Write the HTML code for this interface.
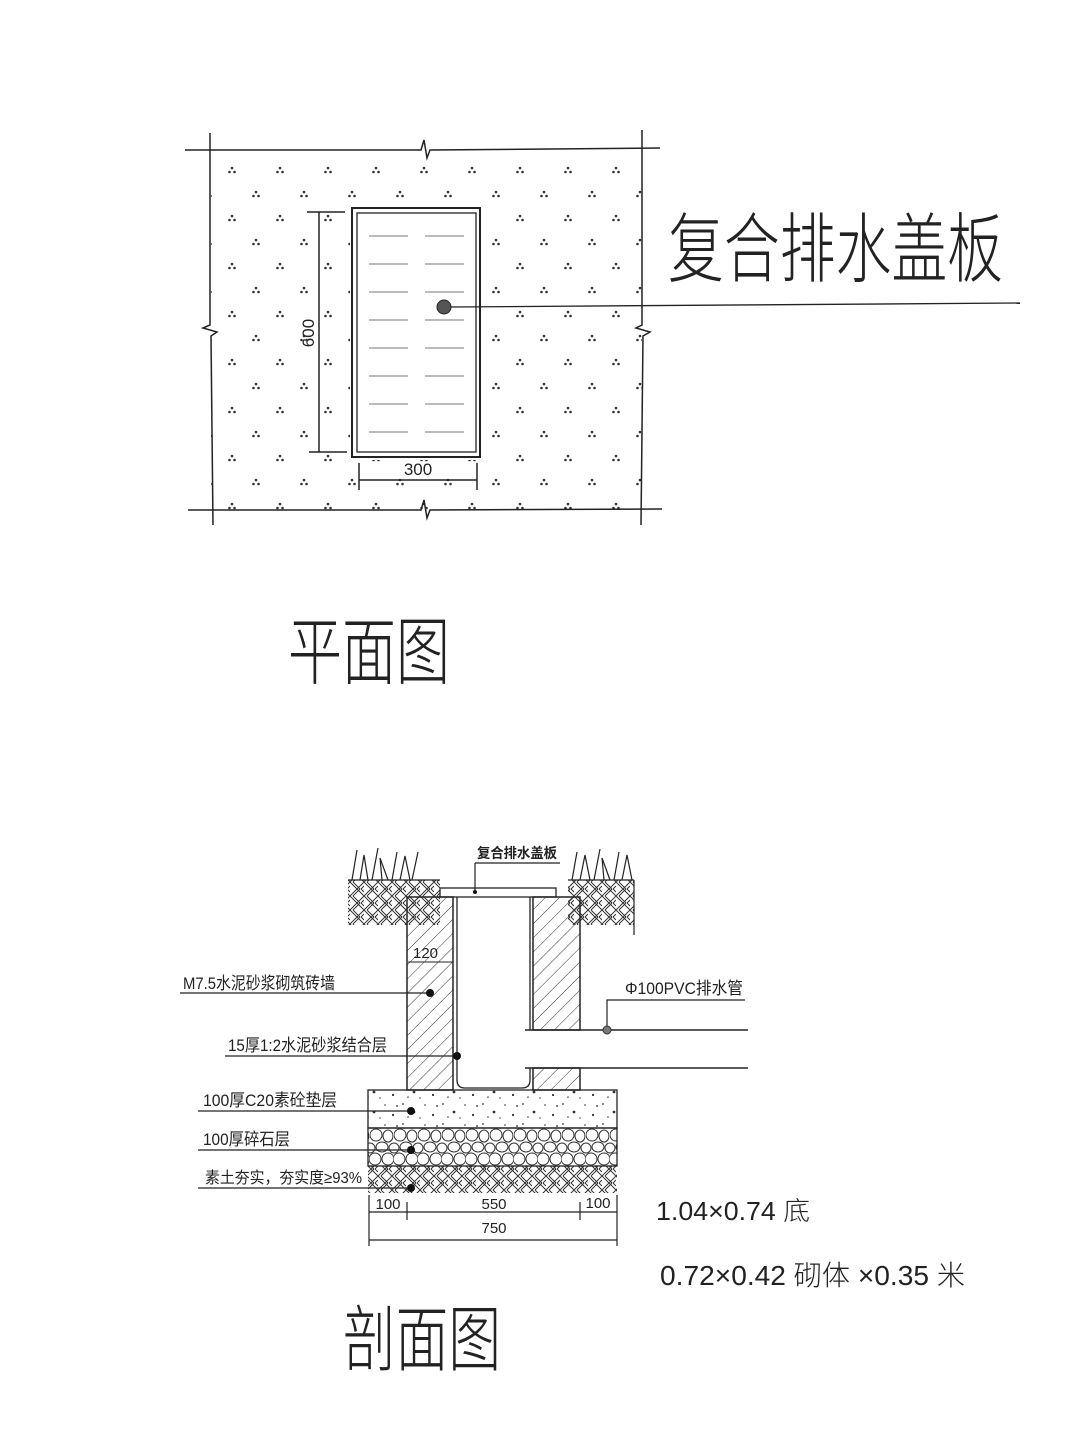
<!DOCTYPE html>
<html><head><meta charset="utf-8"><style>
html,body{margin:0;padding:0;background:#fff;}
svg{display:block}
text{font-family:"Liberation Sans","Noto Sans CJK SC",sans-serif;fill:#222}
</style></head><body>
<svg width="1080" height="1441" viewBox="0 0 1080 1441" xmlns="http://www.w3.org/2000/svg">
<defs>
<pattern id="dots" x="0" y="0" width="96" height="48" patternUnits="userSpaceOnUse" patternTransform="translate(222,160)">
 <g fill="#333"><circle cx="10" cy="8" r="1.3"/><circle cx="7.5" cy="12" r="1.3"/><circle cx="12.5" cy="12" r="1.3"/>
 <circle cx="58" cy="8" r="1.3"/><circle cx="55.5" cy="12" r="1.3"/><circle cx="60.5" cy="12" r="1.3"/>
 <circle cx="34" cy="32" r="1.3"/><circle cx="31.5" cy="36" r="1.3"/><circle cx="36.5" cy="36" r="1.3"/>
 <circle cx="82" cy="32" r="1.3"/><circle cx="79.5" cy="36" r="1.3"/><circle cx="84.5" cy="36" r="1.3"/></g>
</pattern>
<pattern id="hatch" width="10" height="10" patternUnits="userSpaceOnUse" patternTransform="rotate(45)">
 <line x1="0" y1="0" x2="0" y2="10" stroke="#333" stroke-width="1"/>
</pattern>
<pattern id="soil" width="14" height="14" patternUnits="userSpaceOnUse">
 <path d="M0 0 L7 7 M3 0 L10 7 M7 7 L0 14 M10 7 L3 14 M7 7 L14 0 M7 7 L14 14 M11 7 L14 4 M11 7 L14 10" stroke="#333" stroke-width="1" fill="none"/>
</pattern>
<pattern id="conc" width="40" height="20" patternUnits="userSpaceOnUse">
 <g fill="#333"><circle cx="3" cy="4" r="0.9"/><circle cx="14" cy="12" r="1.4"/><circle cx="25" cy="5" r="0.8"/><circle cx="33" cy="15" r="1.1"/><circle cx="8" cy="17" r="0.8"/><circle cx="20" cy="18" r="0.7"/><circle cx="37" cy="6" r="0.9"/></g>
</pattern>
<pattern id="gravel" width="24" height="38" patternUnits="userSpaceOnUse" patternTransform="translate(370,1128)">
 <g fill="none" stroke="#333" stroke-width="1"><ellipse cx="6" cy="7" rx="6" ry="6"/><ellipse cx="18" cy="8" rx="5" ry="6"/><ellipse cx="12" cy="19" rx="6" ry="5"/><ellipse cx="0" cy="20" rx="5" ry="5"/><ellipse cx="24" cy="20" rx="5" ry="5"/><ellipse cx="5" cy="31" rx="6" ry="6"/><ellipse cx="18" cy="31" rx="6" ry="6"/></g>
</pattern>
</defs>

<!-- PLAN -->
<rect x="211" y="150" width="431" height="360" fill="url(#dots)"/>
<rect x="350" y="206" width="133" height="254" fill="#fff"/>
<rect x="352" y="208" width="128" height="249" fill="none" stroke="#222" stroke-width="2"/>
<rect x="357" y="213" width="119" height="239" fill="none" stroke="#222" stroke-width="1.3"/>
<g stroke="#bbb" stroke-width="2">
 <line x1="369" y1="236" x2="408" y2="236"/><line x1="425" y1="236" x2="464" y2="236"/>
 <line x1="369" y1="264" x2="408" y2="264"/><line x1="425" y1="264" x2="464" y2="264"/>
 <line x1="369" y1="292" x2="408" y2="292"/><line x1="425" y1="292" x2="464" y2="292"/>
 <line x1="369" y1="320" x2="408" y2="320"/><line x1="425" y1="320" x2="464" y2="320"/>
 <line x1="369" y1="348" x2="408" y2="348"/><line x1="425" y1="348" x2="464" y2="348"/>
 <line x1="369" y1="376" x2="408" y2="376"/><line x1="425" y1="376" x2="464" y2="376"/>
 <line x1="369" y1="404" x2="408" y2="404"/><line x1="425" y1="404" x2="464" y2="404"/>
 <line x1="369" y1="432" x2="408" y2="432"/><line x1="425" y1="432" x2="464" y2="432"/>
</g>
<g stroke="#222" stroke-width="1.5" fill="none">
 <path d="M185 150 L421 150 L424 140 L427 158 L430 150 L660 148"/>
 <path d="M188 510 L421 510 L424 500 L427 518 L430 510 L662 509"/>
 <path d="M210 133 L210 325 L203 328 L217 332 L211 336 L213 525"/>
 <path d="M642 130 L642 325 L636 328 L650 332 L643 336 L641 525"/>
 <line x1="319" y1="212" x2="319" y2="452"/>
 <line x1="307" y1="212" x2="345" y2="212"/><line x1="309" y1="452" x2="347" y2="452"/>
 <line x1="359" y1="480" x2="477" y2="480"/>
 <line x1="359" y1="463" x2="359" y2="490"/><line x1="477" y1="463" x2="477" y2="490"/>
 <line x1="451" y1="307" x2="1020" y2="303" stroke-width="1.3"/>
</g>
<circle cx="444" cy="307" r="7" fill="#555" stroke="#222"/>
<text x="418" y="475" font-size="17" text-anchor="middle">300</text>
<text transform="translate(314,333) rotate(-90)" font-size="17" text-anchor="middle">600</text>
<text x="668" y="276" font-size="76" textLength="335" lengthAdjust="spacingAndGlyphs" style="font-weight:200">复合排水盖板</text>
<text x="288" y="678" font-size="74" textLength="162" lengthAdjust="spacingAndGlyphs" style="font-weight:200">平面图</text>

<!-- SECTION -->
<rect x="348" y="880" width="92" height="45" fill="url(#soil)"/>
<rect x="568" y="880" width="66" height="45" fill="url(#soil)"/>
<g stroke="#222" stroke-width="1.2" fill="none">
 <path d="M352 880 L357 850 M360 880 L364 855 L368 880 M372 880 L378 848 M382 880 L380 858 L388 880 M392 880 L397 852 M400 880 L405 856 L410 880 M412 880 L418 852"/>
 <path d="M572 880 L577 852 M580 880 L585 855 L590 880 M594 880 L600 849 M604 880 L602 858 L610 880 M614 880 L619 852 M622 880 L627 855 L632 880"/>
 <line x1="348" y1="880" x2="440" y2="880"/><line x1="568" y1="880" x2="634" y2="880"/>
 <line x1="634" y1="880" x2="634" y2="935"/>
</g>
<rect x="440" y="888" width="116" height="9" fill="#fff" stroke="#222" stroke-width="1.3"/>
<rect x="407" y="897" width="46" height="193" fill="url(#hatch)" stroke="#222" stroke-width="1.5"/>
<rect x="533" y="897" width="47" height="133" fill="url(#hatch)" stroke="#222" stroke-width="1.5"/>
<rect x="533" y="1068" width="47" height="22" fill="url(#hatch)" stroke="#222" stroke-width="1.5"/>
<path d="M457 897 L457 1080 Q457 1088 465 1088 L522 1088 Q530 1088 530 1080 L530 1068 M530 1030 L530 897" fill="none" stroke="#222" stroke-width="1.3"/>
<line x1="408" y1="962" x2="453" y2="962" stroke="#222"/>
<text x="413" y="958" font-size="15">120</text>
<line x1="525" y1="1030" x2="748" y2="1030" stroke="#222" stroke-width="1.5"/>
<line x1="525" y1="1068" x2="748" y2="1068" stroke="#222" stroke-width="1.5"/>
<rect x="368" y="1090" width="249" height="38" fill="url(#conc)" stroke="#222" stroke-width="1.3"/>
<rect x="368" y="1128" width="249" height="38" fill="url(#gravel)" stroke="#222" stroke-width="1.3"/>
<rect x="368" y="1166" width="249" height="27" fill="url(#soil)"/>
<line x1="368" y1="1166" x2="617" y2="1166" stroke="#222"/>
<g stroke="#222" stroke-width="1.2">
 <line x1="369" y1="1212" x2="617" y2="1212"/><line x1="369" y1="1240" x2="617" y2="1240"/>
 <line x1="369" y1="1195" x2="369" y2="1246"/><line x1="617" y1="1195" x2="617" y2="1246"/>
 <line x1="407" y1="1202" x2="407" y2="1220"/><line x1="580" y1="1202" x2="580" y2="1220"/>
</g>
<text x="388" y="1209" font-size="15" text-anchor="middle">100</text>
<text x="494" y="1209" font-size="15" text-anchor="middle">550</text>
<text x="598" y="1208" font-size="15" text-anchor="middle">100</text>
<text x="494" y="1233" font-size="15" text-anchor="middle">750</text>
<g stroke="#222" stroke-width="1.2" fill="none">
 <path d="M475 863 L560 863 M475 863 L475 890"/>
 <line x1="180" y1="993" x2="430" y2="993"/>
 <line x1="225" y1="1056" x2="457" y2="1056"/>
 <line x1="198" y1="1111" x2="411" y2="1111"/>
 <line x1="198" y1="1150" x2="411" y2="1150"/>
 <line x1="198" y1="1188" x2="411" y2="1188"/>
 <path d="M607 1030 L607 1000 L745 1000"/>
</g>
<g fill="#111"><circle cx="430" cy="993" r="4"/><circle cx="457" cy="1056" r="4"/><circle cx="411" cy="1111" r="4"/><circle cx="411" cy="1150" r="4"/><circle cx="411" cy="1188" r="4"/><circle cx="475" cy="892" r="2"/></g>
<circle cx="607" cy="1030" r="4" fill="#777" stroke="#333"/>
<text x="477" y="858" font-size="14" textLength="80" lengthAdjust="spacingAndGlyphs" font-weight="bold">复合排水盖板</text>
<text x="183" y="989" font-size="17" textLength="152" lengthAdjust="spacingAndGlyphs">M7.5水泥砂浆砌筑砖墙</text>
<text x="228" y="1051" font-size="17" textLength="159" lengthAdjust="spacingAndGlyphs">15厚1:2水泥砂浆结合层</text>
<text x="203" y="1106" font-size="17" textLength="134" lengthAdjust="spacingAndGlyphs">100厚C20素砼垫层</text>
<text x="203" y="1145" font-size="17" textLength="87" lengthAdjust="spacingAndGlyphs">100厚碎石层</text>
<text x="205" y="1183" font-size="16" textLength="157" lengthAdjust="spacingAndGlyphs">素土夯实，夯实度≥93%</text>
<text x="625" y="994" font-size="17" textLength="118" lengthAdjust="spacingAndGlyphs">Φ100PVC排水管</text>
<text x="656" y="1220" font-size="26" textLength="154" lengthAdjust="spacingAndGlyphs" style="font-weight:200">1.04×0.74 底</text>
<text x="660" y="1285" font-size="28" textLength="305" lengthAdjust="spacingAndGlyphs" style="font-weight:200">0.72×0.42 砌体 ×0.35 米</text>
<text x="343" y="1365" font-size="72" textLength="158" lengthAdjust="spacingAndGlyphs" style="font-weight:200">剖面图</text>
</svg>
</body></html>
